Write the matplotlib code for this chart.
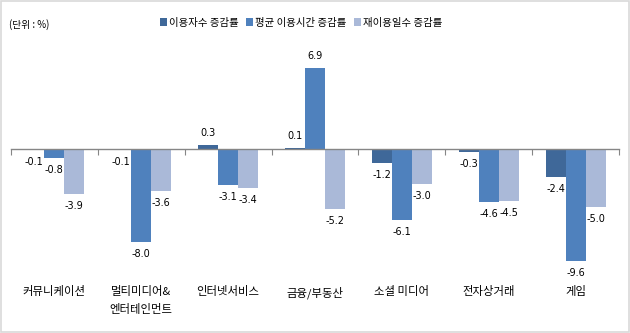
import matplotlib.pyplot as plt
import matplotlib.transforms as mtransforms
from matplotlib.patches import Rectangle
import numpy as np

plt.rcParams['font.family'] = ['Noto Sans CJK KR', 'DejaVu Sans']

categories = ['커뮤니케이션', '멀티미디어&\n엔터테인먼트', '인터넷서비스', '금융/부동산',
              '소셜 미디어', '전자상거래', '게임']
series_names = ['이용자수 증감률', '평균 이용시간 증감률', '재이용일수 증감률']
users = [-0.1, -0.1, 0.3, 0.1, -1.2, -0.3, -2.4]
avg_time = [-0.8, -8.0, -3.1, 6.9, -6.1, -4.6, -9.6]
revisit = [-3.9, -3.6, -3.4, -5.2, -3.0, -4.5, -5.0]
colors = ['#3F6899', '#4F81BD', '#AAB9D8']

fig = plt.figure(figsize=(6.3, 3.33), dpi=100)
ax = fig.add_axes([0.017, 0.189, 0.966, 0.691])

x = np.arange(len(categories))
w = 0.23
for i, (vals, c, name) in enumerate(zip([users, avg_time, revisit], colors, series_names)):
    bars = ax.bar(x + (i - 1) * w, vals, w, color=c, label=name)
    ax.bar_label(bars, fmt='%.1f', padding=5, fontsize=7, family='DejaVu Sans')

ax.set_xlim(-0.5, len(categories) - 0.5)
ax.set_ylim(-10.39, 9.31)

for s in ['top', 'right', 'left']:
    ax.spines[s].set_visible(False)
ax.spines['bottom'].set_position(('data', 0))
ax.spines['bottom'].set_color('#868686')
ax.spines['bottom'].set_linewidth(1)
ax.set_yticks([])
ax.set_xticks(np.arange(len(categories) + 1) - 0.5)
ax.set_xticklabels([])
ax.tick_params(axis='x', direction='out', length=4, color='#868686')

trans = mtransforms.blended_transform_factory(ax.transData, ax.transAxes)
for xi, cat in zip(x, categories):
    ax.text(xi, -0.07, cat, transform=trans, ha='center', va='top',
            fontsize=8.2, linespacing=1.75)

handles, labels = ax.get_legend_handles_labels()
fig.legend(handles, labels, loc='center', bbox_to_anchor=(0.478, 0.932), ncol=3,
           frameon=False, fontsize=7.5, handlelength=0.7, handleheight=0.7,
           handletextpad=0.2, columnspacing=0.7)

fig.text(0.014, 0.925, '(단위 : %)', fontsize=7, ha='left', va='center')

fig.patches.append(Rectangle((0.001, 0.002), 0.997, 0.995, transform=fig.transFigure,
                             fill=False, edgecolor='#D9D9D9', linewidth=1.2))

fig.savefig('out.png', dpi=100)
